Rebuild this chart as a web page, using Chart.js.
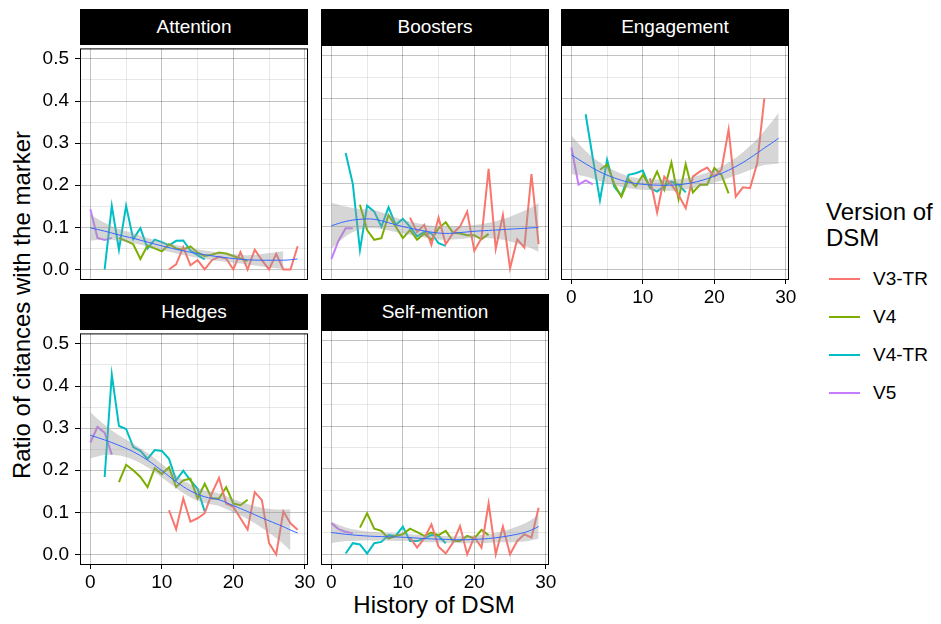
<!DOCTYPE html>
<html>
<head>
<meta charset="utf-8">
<script src="https://cdn.jsdelivr.net/npm/chart.js@4.4.1/dist/chart.umd.min.js"></script>
<style>
  body { margin: 0; width: 941px; height: 624px; background: #fff; position: relative; overflow: hidden;
         font-family: "Liberation Sans", Arial, sans-serif; color: #000; }
  .strip { position: absolute; background: #000; color: #fff; font-size: 19px; text-align: center; height: 36px; line-height: 36px; }
  canvas { position: absolute; }
  .title { position: absolute; font-size: 24px; white-space: nowrap; line-height: 24px; }
  .key { position: absolute; left: 829px; width: 31px; height: 2px; }
  .keylab { position: absolute; left: 873px; font-size: 19px; line-height: 20px; }
</style>
</head>
<body>
<div class="title" id="ytitle" style="left:22px; top:305px; transform: translate(-50%, -50%) rotate(-90deg);">Ratio of citances with the marker</div>
<div class="title" style="left:434px; top:605px; transform: translate(-50%, -50%);">History of DSM</div>
<div class="title" style="left:826px; top:199px; line-height:26px;">Version of<br>DSM</div>
<div id="legend"></div>

<script>
// facets and versions
const facets = ["Attention", "Boosters", "Engagement", "Hedges", "Self-mention"];
const versions = ["V3-TR", "V4", "V4-TR", "V5"];
const versionStart = [11, 4, 2, 0]; // first "history" value of each version
const versionColors = ["#F8766D", "#7CAE00", "#00BFC4", "#C77CFF"];

// axis ticks
const xTicks = [0, 5, 10, 15, 20, 25, 30];
const xTickLabels = ["0", "", "10", "", "20", "", "30"];
const yTicks = [0, 0.05, 0.1, 0.15, 0.2, 0.25, 0.3, 0.35, 0.4, 0.45, 0.5];
const yTickLabels = ["0.0", "", "0.1", "", "0.2", "", "0.3", "", "0.4", "", "0.5"];

////////////////// observed ratios per version //////////////////
const attentionV3TR = [0.0, 0.012, 0.053, 0.01, 0.022, 0.0, 0.022, 0.03, 0.026, 0.0, 0.041, 0.0, 0.047, 0.022, 0.0, 0.037, 0.0, 0.0, 0.055];
const attentionV4 = [0.075, 0.068, 0.06, 0.025, 0.057, 0.05, 0.043, 0.06, 0.05, 0.047, 0.055, 0.04, 0.032, 0.035, 0.04, 0.038, 0.032, 0.026, 0.02];
const attentionV4TR = [0.0, 0.151, 0.047, 0.151, 0.072, 0.098, 0.05, 0.071, 0.065, 0.057, 0.068, 0.069, 0.045, 0.034, 0.024];
const attentionV5 = [0.143, 0.075, 0.07, 0.075];

const boostersV3TR = [0.121, 0.087, 0.104, 0.057, 0.121, 0.059, 0.084, 0.1, 0.135, 0.043, 0.073, 0.235, 0.048, 0.127, 0.002, 0.07, 0.051, 0.223, 0.059];
const boostersV4 = [0.151, 0.092, 0.069, 0.073, 0.127, 0.1, 0.073, 0.092, 0.069, 0.084, 0.069, 0.096, 0.11, 0.086, 0.084, 0.08, 0.08, 0.07, 0.083];
const boostersV4TR = [0.272, 0.2, 0.045, 0.149, 0.135, 0.1, 0.145, 0.104, 0.118, 0.1, 0.077, 0.088, 0.084, 0.061, 0.055];
const boostersV5 = [0.024, 0.067, 0.096, 0.096];

const engagementV3TR = [0.213, 0.133, 0.217, 0.198, 0.174, 0.143, 0.217, 0.229, 0.238, 0.217, 0.233, 0.327, 0.17, 0.192, 0.19, 0.248, 0.4];
const engagementV4 = [0.233, 0.245, 0.2, 0.17, 0.21, 0.194, 0.221, 0.194, 0.229, 0.186, 0.25, 0.164, 0.246, 0.18, 0.198, 0.198, 0.237, 0.221, 0.178];
const engagementV4TR = [0.363, 0.26, 0.162, 0.256, 0.194, 0.172, 0.221, 0.225, 0.231, 0.19, 0.182, 0.195, 0.205, 0.198, 0.18];
const engagementV5 = [0.285, 0.198, 0.208, 0.199];

const hedgesV3TR = [0.105, 0.06, 0.133, 0.078, 0.086, 0.098, 0.145, 0.182, 0.121, 0.113, 0.086, 0.059, 0.148, 0.129, 0.027, 0.0, 0.102, 0.074, 0.059];
const hedgesV4 = [0.172, 0.213, 0.2, 0.184, 0.16, 0.205, 0.191, 0.207, 0.16, 0.176, 0.18, 0.133, 0.168, 0.133, 0.133, 0.16, 0.121, 0.117, 0.13];
const hedgesV4TR = [0.184, 0.427, 0.305, 0.298, 0.255, 0.246, 0.227, 0.248, 0.246, 0.227, 0.176, 0.199, 0.176, 0.156, 0.102];
const hedgesV5 = [0.266, 0.303, 0.289, 0.237];

const selfV3TR = [0.039, 0.016, 0.037, 0.07, 0.018, 0.002, 0.027, 0.066, 0.0, 0.041, 0.016, 0.119, 0.0, 0.065, 0.0, 0.031, 0.047, 0.039, 0.109];
const selfV4 = [0.0625, 0.096, 0.06, 0.055, 0.037, 0.043, 0.047, 0.06, 0.052, 0.043, 0.051, 0.045, 0.055, 0.031, 0.031, 0.043, 0.037, 0.057, 0.045];
const selfV4TR = [0.002, 0.026, 0.023, 0.002, 0.026, 0.029, 0.045, 0.043, 0.065, 0.031, 0.031, 0.037, 0.045, 0.043, 0.026];
const selfV5 = [0.073, 0.059, 0.053, 0.049];

////////////////// loess fit + confidence band //////////////////
const smoothX = [0, 2, 4, 6, 8, 10, 12, 14, 16, 18, 20, 22, 24, 26, 27, 28, 29];

const attentionFit = [0.099, 0.091, 0.082, 0.074, 0.065, 0.056, 0.048, 0.041, 0.035, 0.03, 0.026, 0.023, 0.022, 0.022, 0.022, 0.023, 0.025];
const attentionHi = [0.13, 0.111, 0.096, 0.086, 0.075, 0.066, 0.058, 0.051, 0.045, 0.04, 0.036, 0.034, 0.037, 0.041, 0.043, null, null];
const attentionLo = [0.068, 0.071, 0.068, 0.062, 0.055, 0.046, 0.038, 0.031, 0.025, 0.02, 0.016, 0.012, 0.007, 0.003, 0.001, null, null];

const boostersFit = [0.102, 0.112, 0.117, 0.117, 0.109, 0.1, 0.093, 0.087, 0.084, 0.086, 0.089, 0.091, 0.093, 0.095, 0.096, 0.097, 0.098];
const boostersHi = [0.156, 0.147, 0.141, 0.138, 0.127, 0.116, 0.108, 0.102, 0.099, 0.101, 0.104, 0.109, 0.117, 0.13, 0.137, 0.145, 0.155];
const boostersLo = [0.048, 0.077, 0.093, 0.096, 0.091, 0.084, 0.078, 0.072, 0.069, 0.071, 0.074, 0.073, 0.069, 0.06, 0.055, 0.049, 0.041];

const engagementFit = [0.268, 0.247, 0.228, 0.214, 0.204, 0.199, 0.197, 0.197, 0.2, 0.207, 0.218, 0.232, 0.25, 0.272, 0.284, 0.295, 0.307];
const engagementHi = [0.313, 0.277, 0.25, 0.231, 0.218, 0.212, 0.21, 0.21, 0.213, 0.221, 0.233, 0.25, 0.274, 0.305, 0.324, 0.344, 0.367];
const engagementLo = [0.223, 0.217, 0.206, 0.197, 0.19, 0.186, 0.184, 0.184, 0.187, 0.193, 0.203, 0.214, 0.226, 0.239, 0.244, 0.246, 0.247];

const hedgesFit = [0.283, 0.272, 0.259, 0.244, 0.224, 0.199, 0.173, 0.151, 0.137, 0.13, 0.116, 0.102, 0.087, 0.073, 0.066, 0.058, 0.051];
const hedgesHi = [0.338, 0.308, 0.283, 0.263, 0.241, 0.215, 0.188, 0.166, 0.152, 0.145, 0.132, 0.12, 0.111, 0.107, 0.107, 0.107, null];
const hedgesLo = [0.228, 0.236, 0.235, 0.225, 0.207, 0.183, 0.158, 0.136, 0.122, 0.115, 0.1, 0.084, 0.063, 0.039, 0.025, 0.009, null];

const selfFit = [0.051, 0.047, 0.044, 0.042, 0.041, 0.04, 0.038, 0.036, 0.035, 0.034, 0.035, 0.037, 0.041, 0.047, 0.051, 0.057, 0.065];
const selfHi = [0.076, 0.063, 0.056, 0.052, 0.05, 0.049, 0.046, 0.044, 0.043, 0.042, 0.044, 0.047, 0.054, 0.065, 0.072, 0.081, 0.093];
const selfLo = [0.026, 0.031, 0.032, 0.032, 0.032, 0.031, 0.03, 0.028, 0.027, 0.026, 0.026, 0.027, 0.028, 0.029, 0.03, 0.033, 0.037];

// group per facet (same order as facets)
const facetSeries = [
  [attentionV3TR, attentionV4, attentionV4TR, attentionV5],
  [boostersV3TR, boostersV4, boostersV4TR, boostersV5],
  [engagementV3TR, engagementV4, engagementV4TR, engagementV5],
  [hedgesV3TR, hedgesV4, hedgesV4TR, hedgesV5],
  [selfV3TR, selfV4, selfV4TR, selfV5],
];
const facetFit = [attentionFit, boostersFit, engagementFit, hedgesFit, selfFit];
const facetHi = [attentionHi, boostersHi, engagementHi, hedgesHi, selfHi];
const facetLo = [attentionLo, boostersLo, engagementLo, hedgesLo, selfLo];

////////////////// layout //////////////////
const panelLeft = [80, 321, 561];
const panelTop = [45, 330];
const PW = 228, PH = 235;
const YAX = 45, XAX = 28, PADT = 14, PADR = 12;
const MAJOR = "rgba(0,0,0,0.24)";
const MINOR = "rgba(0,0,0,0.09)";

Chart.defaults.font.family = "'Liberation Sans', Arial, sans-serif";

// black frame round each panel
const panelBox = {
  id: "panelBox",
  afterDraw(chart) {
    const a = chart.chartArea;
    const ctx = chart.ctx;
    ctx.save();
    ctx.strokeStyle = "#000";
    ctx.lineWidth = 1;
    ctx.strokeRect(a.left + 0.5, a.top + 0.5, a.right - a.left - 1, a.bottom - a.top - 1);
    ctx.restore();
  },
};

function toPoints(xs, ys) {
  return ys.map((v, i) => ({ x: xs[i], y: v }));
}
function fromStart(start, ys) {
  return ys.map((v, i) => ({ x: start + i, y: v }));
}

function makePanel(f) {
  const col = f % 3;
  const row = f < 3 ? 0 : 1;
  const name = facets[f];
  const showY = col === 0;
  const showX = row === 1 || name === "Engagement";
  const left = panelLeft[col];
  const top = panelTop[row];

  const strip = document.createElement("div");
  strip.className = "strip";
  strip.textContent = name;
  strip.style.left = left + "px";
  strip.style.top = top - 36 + "px";
  strip.style.width = PW + "px";
  document.body.appendChild(strip);

  const canvas = document.createElement("canvas");
  canvas.width = YAX + PW + PADR;
  canvas.height = PADT + PH + XAX;
  canvas.style.left = left - YAX + "px";
  canvas.style.top = top - PADT + "px";
  document.body.appendChild(canvas);

  const datasets = [
    {
      label: "fit",
      data: toPoints(smoothX, facetFit[f]),
      borderColor: "#3366FF",
      borderWidth: 1,
      pointRadius: 0,
      tension: 0.4,
      fill: false,
    },
    {
      label: "hi",
      data: toPoints(smoothX, facetHi[f]),
      borderWidth: 0,
      borderColor: "rgba(0,0,0,0)",
      backgroundColor: "rgba(153,153,153,0.4)",
      pointRadius: 0,
      tension: 0.4,
      fill: "+1",
    },
    {
      label: "lo",
      data: toPoints(smoothX, facetLo[f]),
      borderWidth: 0,
      borderColor: "rgba(0,0,0,0)",
      pointRadius: 0,
      tension: 0.4,
      fill: false,
    },
  ];
  facetSeries[f].forEach((vals, k) => {
    datasets.push({
      label: versions[k],
      data: fromStart(versionStart[k], vals),
      borderColor: versionColors[k],
      borderWidth: 2,
      pointRadius: 0,
      tension: 0,
      fill: false,
    });
  });

  new Chart(canvas, {
    type: "line",
    data: { datasets },
    plugins: [panelBox],
    options: {
      responsive: false,
      animation: false,
      devicePixelRatio: 1,
      layout: { padding: { top: PADT, right: PADR, left: 0, bottom: 0 } },
      plugins: { legend: { display: false }, tooltip: { enabled: false } },
      scales: {
        x: {
          type: "linear",
          min: -1.45,
          max: 30.45,
          afterBuildTicks: (s) => { s.ticks = xTicks.map((v) => ({ value: v })); },
          afterFit: (s) => { s.height = XAX; },
          ticks: {
            display: showX,
            autoSkip: false,
            maxRotation: 0,
            padding: 2,
            color: "#000",
            font: { size: 19 },
            callback: (v, i) => xTickLabels[i],
          },
          grid: {
            color: (c) => (c.index % 2 === 0 ? MAJOR : MINOR),
            drawTicks: showX,
            tickLength: 4,
            tickColor: (c) => (c.index % 2 === 0 ? "#000" : "rgba(0,0,0,0)"),
          },
          border: { display: false },
        },
        y: {
          min: -0.025,
          max: 0.525,
          afterBuildTicks: (s) => { s.ticks = yTicks.map((v) => ({ value: v })); },
          afterFit: (s) => { s.width = YAX; },
          ticks: {
            display: showY,
            autoSkip: false,
            padding: 6,
            color: "#000",
            font: { size: 19 },
            callback: (v, i) => yTickLabels[i],
          },
          grid: {
            color: (c) => (c.index % 2 === 0 ? MAJOR : MINOR),
            drawTicks: showY,
            tickLength: 5,
            tickColor: (c) => (c.index % 2 === 0 ? "#000" : "rgba(0,0,0,0)"),
          },
          border: { display: false },
        },
      },
    },
  });
}

facets.forEach((name, f) => makePanel(f));

// legend keys
const legendY = [279, 317, 355, 393];
const legend = document.getElementById("legend");
versions.forEach((v, k) => {
  const key = document.createElement("div");
  key.className = "key";
  key.style.top = legendY[k] - 1 + "px";
  key.style.background = versionColors[k];
  legend.appendChild(key);
  const lab = document.createElement("div");
  lab.className = "keylab";
  lab.style.top = legendY[k] - 10 + "px";
  lab.textContent = v;
  legend.appendChild(lab);
});
</script>
</body>
</html>
